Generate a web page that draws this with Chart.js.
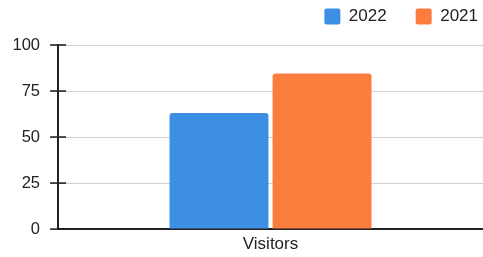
<!DOCTYPE html>
<html><head><meta charset="utf-8">
<script src="https://cdn.jsdelivr.net/npm/chart.js@4/dist/chart.umd.min.js"></script>
<style>html,body{margin:0;padding:0;background:#fff}#w{width:483px;height:257px}</style>
</head><body><div id="w"><canvas id="c"></canvas></div>
<script>
const categories = ["Visitors"];
const seriesNames = ["2022", "2021"];
const values2022 = [63];
const values2021 = [84.5];
const yTicks = [0, 25, 50, 75, 100];

const tickMarks = {
  id: 'tickMarks',
  afterDatasetsDraw(chart) {
    const y = chart.scales.y, ctx = chart.ctx, x0 = chart.chartArea.left;
    ctx.save();
    ctx.strokeStyle = '#222'; ctx.lineWidth = 1.6;
    yTicks.forEach(v => {
      const py = y.getPixelForValue(v);
      ctx.beginPath(); ctx.moveTo(x0 - 8, py); ctx.lineTo(x0 + 8, py); ctx.stroke();
    });
    ctx.restore();
  }
};

const legendShift = {
  id: 'legendShift',
  afterLayout(chart) {
    const l = chart.legend;
    if (!l) return;
    l.top -= 10; l.bottom -= 10;
    l.left += 24; l.right += 24;
  }
};

new Chart(document.getElementById('c'), {
  type: 'bar',
  data: {
    labels: categories,
    datasets: [
      { label: seriesNames[0], data: values2022, backgroundColor: '#3d8fe3', borderWidth: 0, borderRadius: 3, borderSkipped: 'bottom' },
      { label: seriesNames[1], data: values2021, backgroundColor: '#fb7d3e', borderWidth: 0, borderRadius: 3, borderSkipped: 'bottom' }
    ]
  },
  options: {
    responsive: true, maintainAspectRatio: false, animation: false,
    layout: { padding: { left: -5.5, right: 0, top: -11, bottom: -7 } },
    datasets: { bar: { categoryPercentage: 0.485, barPercentage: 0.96 } },
    plugins: {
      legend: {
        position: 'top', align: 'end',
        labels: { boxWidth: 16, boxHeight: 16, padding: 29, color: '#222', font: { family: 'Liberation Sans', size: 17 }, useBorderRadius: true, borderRadius: 2 }
      },
      tooltip: { enabled: false }
    },
    scales: {
      x: {
        grid: { display: false, drawTicks: false },
        border: { display: true, color: '#222', width: 2 },
        ticks: { color: '#222', font: { family: 'Liberation Sans', size: 17 }, padding: 5 }
      },
      y: {
        min: 0, max: 100,
        afterBuildTicks: s => { s.ticks = yTicks.map(v => ({ value: v })); },
        grid: { color: '#d0d0d0', drawTicks: false, lineWidth: 1 },
        border: { display: true, color: '#222', width: 2 },
        ticks: { color: '#222', font: { family: 'Liberation Sans', size: 16.5 }, padding: 18 }
      }
    }
  },
  plugins: [tickMarks, legendShift]
});
</script></body></html>
